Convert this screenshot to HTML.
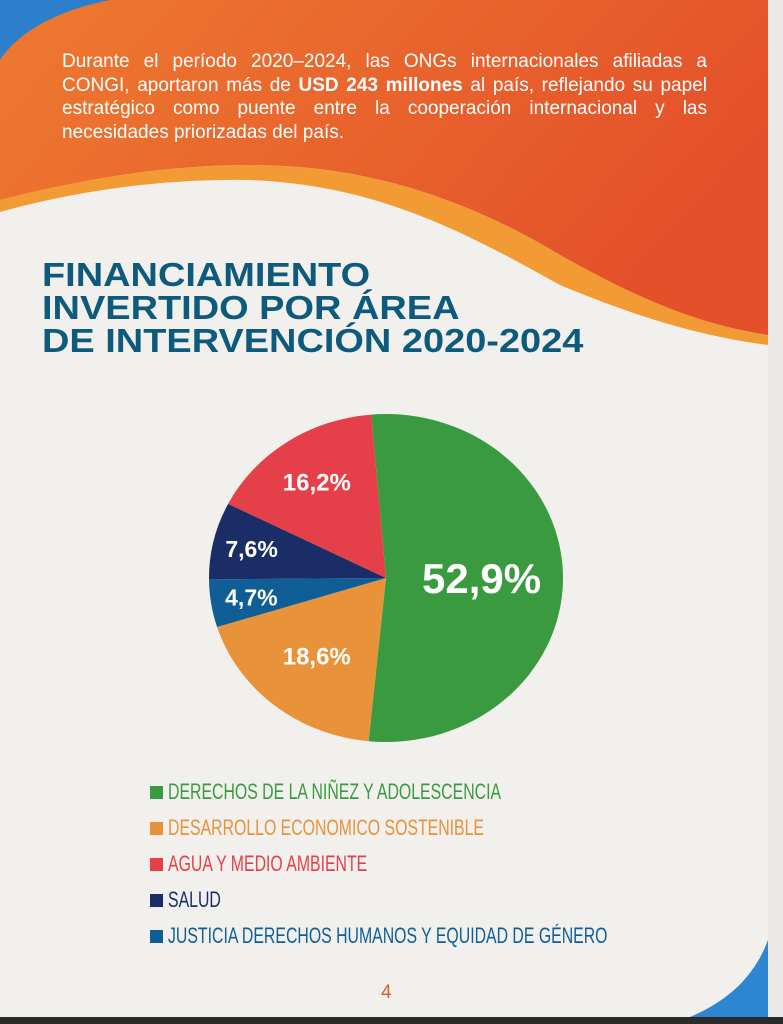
<!DOCTYPE html>
<html><head><meta charset="utf-8"><style>
html,body{margin:0;padding:0;}
body{width:783px;height:1024px;position:relative;overflow:hidden;background:#e9e8e6;font-family:"Liberation Sans",sans-serif;}
#page{position:absolute;left:0;top:0;width:768px;height:1017px;background:#f1f0ed;overflow:hidden;}
#bottomstrip{position:absolute;left:0;top:1017px;width:783px;height:7px;background:#2a2a2a;}
#intro{position:absolute;left:62px;top:50px;width:645px;color:#fff;line-height:23.5px;font-size:19px;}
#intro div{text-align:justify;text-align-last:justify;white-space:nowrap;}
#intro div.last{text-align-last:left;}
#title{position:absolute;left:42px;top:258px;color:#0d5a7c;font-weight:bold;font-size:33px;line-height:33px;transform:scaleX(1.15);transform-origin:left top;white-space:nowrap;}
#legend{position:absolute;left:150px;top:779px;font-size:22px;}
.li{height:36px;display:flex;align-items:flex-start;white-space:nowrap;}
.sq{width:13px;height:13px;margin-top:7px;margin-right:5px;flex:none;}
.lt{display:inline-block;transform:scaleX(0.72);transform-origin:left top;}
#pnum{position:absolute;left:381px;top:982px;color:#e05a2a;font-size:19px;}
</style></head><body>
<div id="page">
<svg width="768" height="1017" style="position:absolute;left:0;top:0">
<defs><linearGradient id="og" x1="0" y1="0" x2="1" y2="0.4"><stop offset="0" stop-color="#ee7a30"/><stop offset="1" stop-color="#e4502a"/></linearGradient></defs>
<path d="M0,0 H768 V335 C700,325 640,300 560,255 C460,195 360,165 250,165 C150,165 60,185 0,200 Z" fill="url(#og)"/>
<path d="M0,200 C60,185 150,165 250,165 C360,165 460,195 560,255 C640,300 700,325 768,335 V345 C690,335 620,310 560,285 C470,235 380,185 250,180 C150,178 60,195 0,212 Z" fill="#f29a34"/>
<path d="M0,0 H110 C60,10 20,30 0,60 Z" fill="#2e7fcb"/>
<path d="M768,940 V1017 H690 C730,1000 755,975 768,940 Z" fill="#2f86d0"/>
</svg>
<div id="intro">
<div>Durante el período 2020–2024, las ONGs internacionales afiliadas a</div>
<div>CONGI, aportaron más de <b>USD 243 millones</b> al país, reflejando su papel</div>
<div>estratégico como puente entre la cooperación internacional y las</div>
<div class="last">necesidades priorizadas del país.</div>
</div>
<div id="title">FINANCIAMIENTO<br>INVERTIDO POR ÁREA<br>DE INTERVENCIÓN 2020-2024</div>
<svg id="pie" width="768" height="1017" style="position:absolute;left:0;top:0"></svg>
<div id="legend"></div>
<div id="pnum">4</div>
</div>
<div id="bottomstrip"></div>
<script>
const categories=["DERECHOS DE LA NIÑEZ Y ADOLESCENCIA","DESARROLLO ECONOMICO SOSTENIBLE","JUSTICIA DERECHOS HUMANOS Y EQUIDAD DE GÉNERO","SALUD","AGUA Y MEDIO AMBIENTE"];
const values=[52.9,18.6,4.7,7.6,16.2];
const valueLabels=["52,9%","18,6%","4,7%","7,6%","16,2%"];
const colors=["#3a9a3f","#e8923a","#0f5f96","#1b2d66","#e5404a"];
const legendOrder=[0,1,4,3,2];
const legendColors=["#3a9a3f","#e8923a","#e5404a","#1b2d66","#0f5f96"];
const labelR=[0.54,0.62,0.77,0.78,0.70];
const labelSize=[42,24,23,23,24];
const NS="http://www.w3.org/2000/svg";
const svg=document.getElementById('pie');
const cx=386,cy=578,rx=177,ry=164,start=-4.8;
const total=values.reduce((a,b)=>a+b,0);
function pt(deg,f){const r=deg*Math.PI/180;return [cx+Math.sin(r)*rx*f,cy-Math.cos(r)*ry*f];}
let a=start;
values.forEach((v,i)=>{
 const sweep=v/total*360,b=a+sweep;
 const p0=pt(a,1),p1=pt(b,1);
 const path=document.createElementNS(NS,'path');
 path.setAttribute('d',`M${cx},${cy} L${p0[0]},${p0[1]} A${rx},${ry} 0 ${sweep>180?1:0} 1 ${p1[0]},${p1[1]} Z`);
 path.setAttribute('fill',colors[i]);
 
 
 svg.appendChild(path);
 const m=pt((a+b)/2,labelR[i]);
 const t=document.createElementNS(NS,'text');
 t.setAttribute('x',m[0]);t.setAttribute('y',m[1]);
 t.setAttribute('text-anchor','middle');t.setAttribute('dominant-baseline','central');
 t.setAttribute('fill','#fff');t.setAttribute('font-weight','bold');
 t.setAttribute('font-size',labelSize[i]);t.setAttribute('font-family','Liberation Sans, sans-serif');
 
 
 t.textContent=valueLabels[i];
 svg.appendChild(t);
 a=b;
});
const leg=document.getElementById('legend');
legendOrder.forEach((ci,k)=>{
 const row=document.createElement('div');row.className='li';
 
 
 const sq=document.createElement('span');sq.className='sq';sq.style.background=legendColors[k];
 const tx=document.createElement('span');tx.className='lt';tx.textContent=categories[ci];tx.style.color=legendColors[k];
 row.appendChild(sq);row.appendChild(tx);leg.appendChild(row);
});
</script>
</body></html>
